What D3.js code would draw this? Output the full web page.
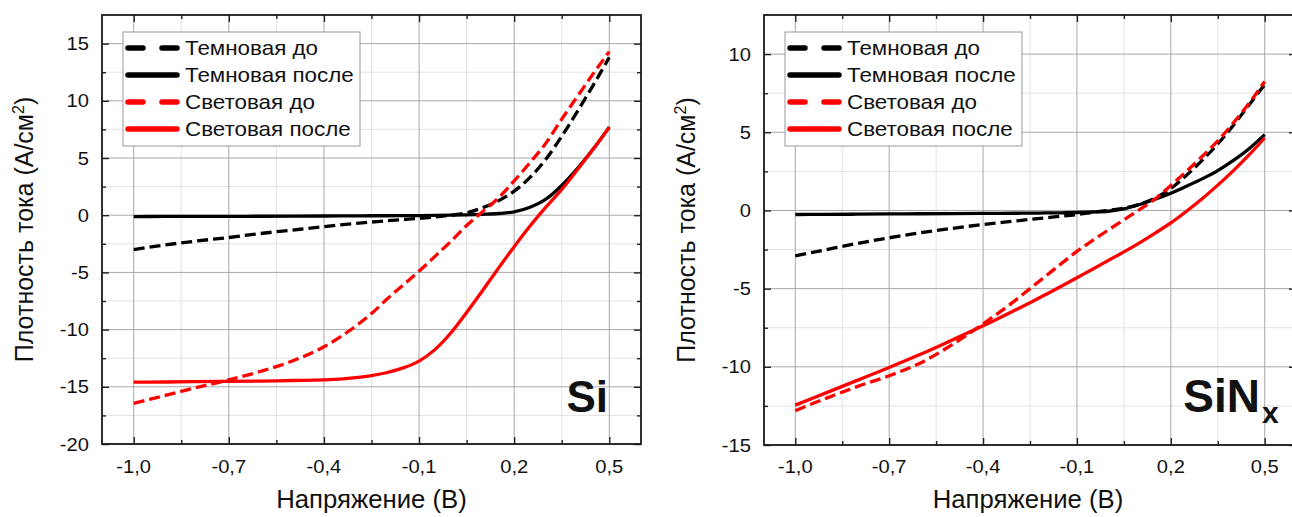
<!DOCTYPE html>
<html><head><meta charset="utf-8">
<script src="https://cdn.jsdelivr.net/npm/d3@7"></script>
<style>body{margin:0;background:#fff}svg{display:block}text{font-family:"Liberation Sans",Arial,sans-serif;fill:#111}</style>
</head><body><svg id="c" width="1292" height="517"></svg>
<script>
const voltage = [-1.0,-0.9,-0.8,-0.7,-0.6,-0.5,-0.4,-0.3,-0.25,-0.2,-0.15,-0.1,-0.05,0,0.05,0.1,0.15,0.2,0.25,0.3,0.35,0.4,0.45,0.5];
const seriesNames = ["Темновая до","Темновая после","Световая до","Световая после"];
const seriesColors = ["#000000","#000000","#ff0000","#ff0000"];
const seriesDashed = [true,false,true,false];

const siDarkBefore  = [-3.0,-2.6,-2.25,-1.95,-1.6,-1.3,-1.0,-0.72,-0.6,-0.48,-0.38,-0.28,-0.15,0.0,0.2,0.65,1.25,2.1,3.3,4.9,6.9,9.1,11.4,13.8];
const siDarkAfter   = [-0.12,-0.11,-0.1,-0.1,-0.09,-0.08,-0.07,-0.06,-0.05,-0.05,-0.04,-0.03,-0.02,0.0,0.03,0.08,0.15,0.3,0.7,1.4,2.6,4.1,5.8,7.7];
const siLightBefore = [-16.45,-15.75,-15.05,-14.4,-13.65,-12.75,-11.5,-9.7,-8.6,-7.3,-6.1,-4.9,-3.6,-2.3,-0.9,0.3,1.5,3.0,4.6,6.3,8.4,10.4,12.4,14.3];
const siLightAfter  = [-14.6,-14.58,-14.55,-14.52,-14.5,-14.45,-14.4,-14.2,-14.02,-13.75,-13.35,-12.75,-11.75,-10.3,-8.5,-6.6,-4.65,-2.75,-0.95,0.7,2.25,4.0,5.8,7.7];

const sinDarkBefore  = [-2.9,-2.5,-2.1,-1.75,-1.43,-1.15,-0.9,-0.68,-0.57,-0.47,-0.37,-0.26,-0.12,0.0,0.15,0.4,0.8,1.4,2.25,3.2,4.25,5.45,6.75,8.05];
const sinDarkAfter   = [-0.26,-0.25,-0.24,-0.22,-0.21,-0.2,-0.19,-0.18,-0.17,-0.16,-0.15,-0.13,-0.1,-0.05,0.1,0.38,0.72,1.1,1.55,2.02,2.55,3.2,3.95,4.85];
const sinLightBefore = [-12.8,-12.0,-11.25,-10.57,-9.75,-8.6,-7.25,-5.8,-5.0,-4.2,-3.4,-2.62,-1.92,-1.25,-0.6,0.05,0.75,1.6,2.5,3.45,4.45,5.6,6.85,8.25];
const sinLightAfter  = [-12.45,-11.65,-10.85,-10.04,-9.2,-8.3,-7.38,-6.4,-5.9,-5.38,-4.85,-4.3,-3.76,-3.2,-2.65,-2.07,-1.45,-0.8,-0.05,0.75,1.62,2.55,3.55,4.64];

const xTicks = [-1.0,-0.7,-0.4,-0.1,0.2,0.5];
const xMinor = [-0.85,-0.55,-0.25,0.05,0.35];
const siYTicks = [-20,-15,-10,-5,0,5,10,15];
const siYMinor = [-17.5,-12.5,-7.5,-2.5,2.5,7.5,12.5];
const sinYTicks = [-15,-10,-5,0,5,10];
const sinYMinor = [-12.5,-7.5,-2.5,2.5,7.5];
const xTitle = "Напряжение (В)";
const yTitleMain = "Плотность тока (A/см";
const yTitleSup = "2";

const SX = 1.12;
const svg = d3.select("#c");

const panels = [
  {left:102,right:641,top:15,bottom:444,xDomain:[-1.1,0.6],yDomain:[-20,17.5],yTicks:siYTicks,yMinor:siYMinor,
   series:[siDarkBefore,siDarkAfter,siLightBefore,siLightAfter],label:"Si",sub:"",labelX:608,labelSize:44},
  {left:764,right:1296,top:15,bottom:445,xDomain:[-1.1,0.6],yDomain:[-15,12.5],yTicks:sinYTicks,yMinor:sinYMinor,
   series:[sinDarkBefore,sinDarkAfter,sinLightBefore,sinLightAfter],label:"SiN",sub:"x",labelX:1260,labelSize:46}
];

function fmtX(v){ return v.toFixed(1).replace(".", ","); }

function stext(g, x, y, str, size, anchor, sx){
  return g.append("text").attr("transform",`translate(${x},${y}) scale(${sx},1)`)
    .attr("text-anchor",anchor).attr("font-size",size).text(str);
}

panels.forEach((p,pi)=>{
  const g = svg.append("g");
  const x = d3.scaleLinear().domain(p.xDomain).range([p.left,p.right]);
  const y = d3.scaleLinear().domain(p.yDomain).range([p.bottom,p.top]);

  g.selectAll(null).data(xMinor).join("line").attr("x1",d=>x(d)).attr("x2",d=>x(d)).attr("y1",p.top).attr("y2",p.bottom).attr("stroke","#e3e3e3");
  g.selectAll(null).data(p.yMinor).join("line").attr("y1",d=>y(d)).attr("y2",d=>y(d)).attr("x1",p.left).attr("x2",p.right).attr("stroke","#e3e3e3");
  g.selectAll(null).data(xTicks).join("line").attr("x1",d=>x(d)).attr("x2",d=>x(d)).attr("y1",p.top).attr("y2",p.bottom).attr("stroke","#a8a8a8");
  g.selectAll(null).data(p.yTicks).join("line").attr("y1",d=>y(d)).attr("y2",d=>y(d)).attr("x1",p.left).attr("x2",p.right).attr("stroke","#a8a8a8");

  const mk = (axis, tx, ty, vals, size) => {
    const a = g.append("g").attr("transform",`translate(${tx},${ty})`)
      .call(axis.tickValues(vals).tickSizeInner(size).tickSizeOuter(0).tickFormat(""));
    a.select(".domain").remove();
    a.selectAll("line").attr("stroke","#222").attr("stroke-width",1.4);
  };
  mk(d3.axisBottom(x),0,p.bottom,xTicks,-7); mk(d3.axisBottom(x),0,p.bottom,xMinor,-4);
  mk(d3.axisTop(x),0,p.top,xTicks,-7); mk(d3.axisTop(x),0,p.top,xMinor,-4);
  mk(d3.axisLeft(y),p.left,0,p.yTicks,-7); mk(d3.axisLeft(y),p.left,0,p.yMinor,-4);
  mk(d3.axisRight(y),p.right,0,p.yTicks,-7); mk(d3.axisRight(y),p.right,0,p.yMinor,-4);

  g.append("rect").attr("x",p.left).attr("y",p.top).attr("width",p.right-p.left).attr("height",p.bottom-p.top)
    .attr("fill","none").attr("stroke","#1a1a1a").attr("stroke-width",1.8);

  xTicks.forEach(v=>stext(g, x(v), 473, fmtX(v), 18, "middle", SX));
  p.yTicks.forEach(v=>stext(g, p.left-13, y(v)+6.5, String(v), 18, "end", SX));

  const line = d3.line().x(d=>x(d[0])).y(d=>y(d[1])).curve(d3.curveMonotoneX);
  p.series.forEach((vals,i)=>{
    g.append("path").datum(voltage.map((v,j)=>[v,vals[j]]))
      .attr("d",line).attr("fill","none").attr("stroke",seriesColors[i])
      .attr("stroke-width",3.3).attr("stroke-dasharray",seriesDashed[i]?"11,5":null);
  });

  const lx = p.left+21, ly = p.top+17;
  g.append("rect").attr("x",lx).attr("y",ly).attr("width",237).attr("height",114)
    .attr("fill","#fff").attr("stroke","#999").attr("stroke-width",1);
  seriesNames.forEach((n,i)=>{
    const cy = ly+16+i*27;
    g.append("line").attr("x1",lx+5).attr("x2",lx+54).attr("y1",cy).attr("y2",cy)
      .attr("stroke",seriesColors[i]).attr("stroke-width",5.5).attr("stroke-linecap","round")
      .attr("stroke-dasharray",seriesDashed[i]?"15,19":null);
    stext(g, lx+62, cy+7, n, 20, "start", SX);
  });

  g.append("text").attr("x",p.labelX).attr("y",412).attr("text-anchor","end")
    .attr("font-size",p.labelSize).attr("font-weight","bold").attr("fill","#111").text(p.label);
  if(p.sub){
    g.append("text").attr("x",p.labelX+2).attr("y",423).attr("font-size",30).attr("font-weight","bold").text(p.sub);
  }

  stext(g, (p.left+p.right)/2 + (pi===1? -2:0), 508, xTitle, 25, "middle", 1.03);
  const yt = g.append("text").attr("transform",`translate(${p.left-69},${(p.top+p.bottom)/2}) rotate(-90) scale(1,1.05)`)
    .attr("text-anchor","middle").attr("font-size",25);
  yt.append("tspan").text(yTitleMain);
  yt.append("tspan").attr("dy",-9).attr("font-size",16).text(yTitleSup);
  yt.append("tspan").attr("dy",9).text(")");
});
</script></body></html>
